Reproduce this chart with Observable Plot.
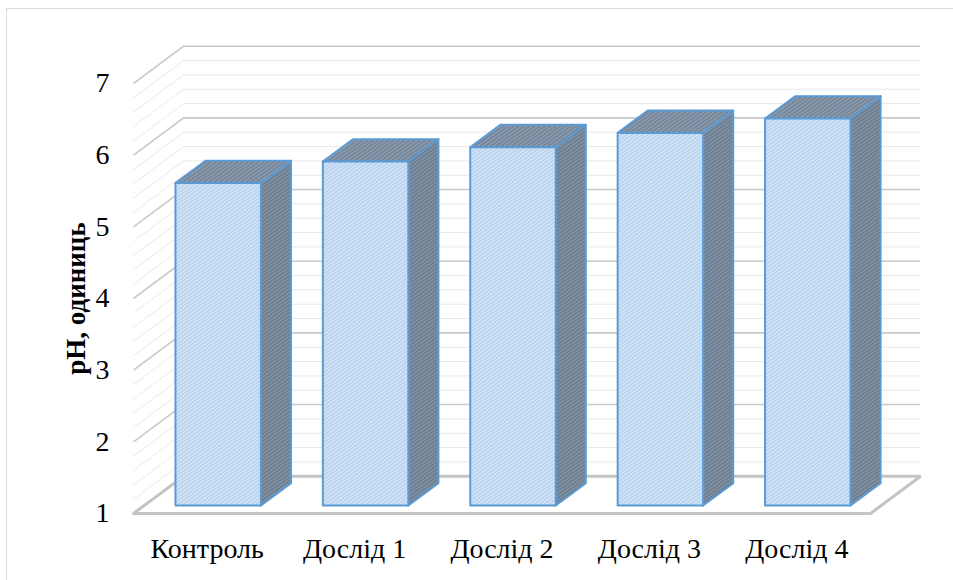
<!DOCTYPE html>
<html>
<head>
<meta charset="utf-8">
<script src="https://cdn.jsdelivr.net/npm/d3@7"></script>
<script src="https://cdn.jsdelivr.net/npm/@observablehq/plot@0.6"></script>
<style>
  html, body { margin: 0; padding: 0; background: #fff; }
  #wrap { position: relative; width: 953px; height: 580px; overflow: hidden; }
  #frame { position: absolute; left: 6px; top: 8px; width: 1000px; height: 700px; border: 1.5px solid #d9d9d9; box-sizing: border-box; }
  #chart { position: absolute; left: 0; top: 0; }
</style>
</head>
<body>
<div id="wrap"><div id="frame"></div><div id="chart"></div></div>
<script>
// ---- data ----
const categories = ["Контроль", "Дослід 1", "Дослід 2", "Дослід 3", "Дослід 4"];
const values = [5.5, 5.8, 6.0, 6.2, 6.4];
const yTicks = [1, 2, 3, 4, 5, 6, 7];
const yTitle = "pH, одиниць";

// ---- 3D geometry (in data units) ----
const DX = 0.34, DY = 0.52;      // full depth offset of the back wall
const A = 0.22, B = 0.80;        // bar extent within a category slot
const Z0 = 0.2, Z1 = 0.8;        // bar depth range
const yMin = 1, yMax = 7;

const minor = d3.range(yMin, yMax + 0.001, 0.2).map(v => +v.toFixed(2));
const major = yTicks.slice(1);

const bars = categories.map((c, i) => ({ c, i, v: values[i] }));
const sideRows = bars.flatMap(d => [
  { i: d.i, x: d.i + B + Z0 * DX, y1: yMin + Z0 * DY, y2: d.v + Z0 * DY },
  { i: d.i, x: d.i + B + Z1 * DX, y1: yMin + Z1 * DY, y2: d.v + Z1 * DY }
]);
const topRows = bars.flatMap(d => [
  { i: d.i, y: d.v + Z0 * DY, x1: d.i + A + Z0 * DX, x2: d.i + B + Z0 * DX },
  { i: d.i, y: d.v + Z1 * DY, x1: d.i + A + Z1 * DX, x2: d.i + B + Z1 * DX }
]);
const n = categories.length;
const floorPts = [
  { x: 0, y: yMin }, { x: n, y: yMin }, { x: n + DX, y: yMin + DY },
  { x: DX, y: yMin + DY }, { x: 0, y: yMin }
];

function defsMark() {
  const ns = "http://www.w3.org/2000/svg";
  const defs = document.createElementNS(ns, "defs");
  const mk = (id, base, stripe) => {
    const p = document.createElementNS(ns, "pattern");
    p.setAttribute("id", id);
    p.setAttribute("patternUnits", "userSpaceOnUse");
    p.setAttribute("width", "3");
    p.setAttribute("height", "3");
    p.setAttribute("patternTransform", "rotate(55)");
    const r = document.createElementNS(ns, "rect");
    r.setAttribute("width", "3"); r.setAttribute("height", "3"); r.setAttribute("fill", base);
    const s = document.createElementNS(ns, "rect");
    s.setAttribute("width", "1"); s.setAttribute("height", "3"); s.setAttribute("fill", stripe);
    p.appendChild(r); p.appendChild(s);
    defs.appendChild(p);
  };
  mk("hf", "#bad3ee", "#dce9f7");
  mk("hs", "#6d7e91", "#8998a9");
  mk("ht", "#76879b", "#93a2b3");
  return defs;
}

const blue = "#5b9bd5";
const chart = Plot.plot({
  width: 953,
  height: 580,
  marginLeft: 133,
  marginRight: 83,
  marginTop: 83,
  marginBottom: 67,
  x: { domain: [0, n], axis: null },
  y: { domain: [yMin, yMax], axis: null },
  style: { fontFamily: "'Liberation Serif', 'Times New Roman', serif", background: "transparent", overflow: "visible", color: "#000" },
  marks: [
    defsMark,
    // minor grid: back wall + left wall
    Plot.ruleY(minor, { y: d => d + DY, x1: () => DX, x2: () => n + DX, stroke: "#e8e8e8", strokeWidth: 1 }),
    Plot.link(minor, { x1: () => 0, y1: d => d, x2: () => DX, y2: d => d + DY, stroke: "#e8e8e8", strokeWidth: 1 }),
    // major grid
    Plot.ruleY(major, { y: d => d + DY, x1: () => DX, x2: () => n + DX, stroke: "#cacaca", strokeWidth: 1.6 }),
    Plot.link(major, { x1: () => 0, y1: d => d, x2: () => DX, y2: d => d + DY, stroke: "#cacaca", strokeWidth: 1.6 }),
    // floor
    Plot.line(floorPts, { x: "x", y: "y", stroke: "#c4c4c4", strokeWidth: 3, strokeLinejoin: "miter" }),
    // bars
    Plot.areaY(sideRows, { x: "x", y1: "y1", y2: "y2", z: "i", fill: "url(#hs)", stroke: blue, strokeWidth: 2, strokeLinejoin: "round" }),
    Plot.areaX(topRows, { y: "y", x1: "x1", x2: "x2", z: "i", fill: "url(#ht)", stroke: blue, strokeWidth: 2, strokeLinejoin: "round" }),
    Plot.rect(bars, {
      x1: d => d.i + A + Z0 * DX, x2: d => d.i + B + Z0 * DX,
      y1: () => yMin + Z0 * DY, y2: d => d.v + Z0 * DY,
      fill: "url(#hf)", stroke: blue, strokeWidth: 2, strokeLinejoin: "round"
    }),
    // category labels
    Plot.text(categories, { x: (d, i) => i + 0.5, y: () => yMin, dy: 36, text: d => d, fontSize: 28, fill: "#000" }),
    // y tick labels
    Plot.text(yTicks, { x: () => 0, y: d => d, dx: -24, text: d => String(d), textAnchor: "end", fontSize: 28, fill: "#000" }),
    // y title
    Plot.text([yTitle], { x: () => 0, y: () => 4, dx: -57, text: d => d, rotate: -90, fontSize: 27, fontWeight: "bold", fill: "#000" })
  ]
});
document.getElementById("chart").appendChild(chart);
</script>
</body>
</html>
